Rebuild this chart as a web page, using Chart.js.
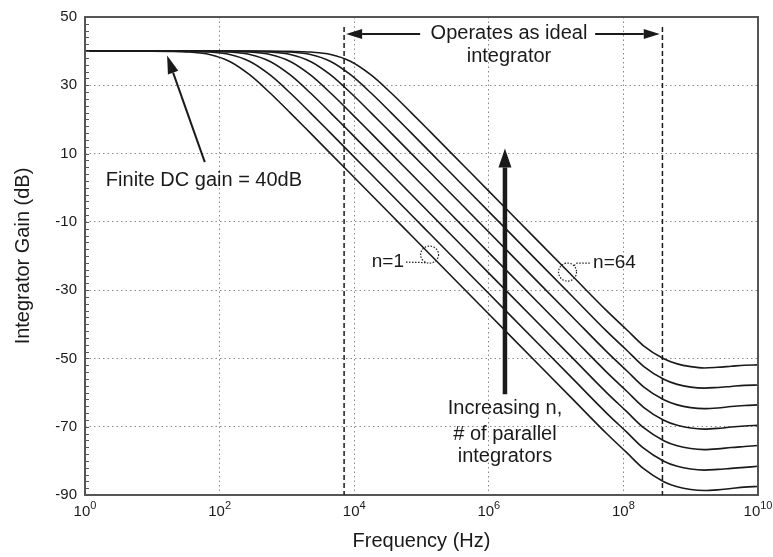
<!DOCTYPE html>
<html>
<head>
<meta charset="utf-8">
<script src="https://cdn.jsdelivr.net/npm/chart.js@4.4.0/dist/chart.umd.min.js"></script>
<style>
  html, body { margin: 0; padding: 0; background: #fff; }
</style>
</head>
<body>
<canvas id="gain-chart" width="773" height="557"></canvas>
<script>
// log10 of the frequency in Hz, shared by every curve
const logFreq = [0, 0.95, 1.25, 1.55, 1.85, 2.15, 2.45, 2.75, 3.05, 3.35, 3.65, 3.95, 4.25, 4.55, 4.85, 5.15, 5.45, 5.75,
  6.25, 6.75, 7.25, 7.75, 8.05, 8.3, 8.6, 8.8, 9.0, 9.2, 9.4, 9.6, 9.8, 10];

// integrator gain in dB, one curve per number of parallel integrators
const gainN1 = [40, 39.98, 39.93, 39.73, 39.03, 36.99, 33.03, 27.73, 21.93, 15.98, 10.0, 4.0, -2.0, -8.0, -14.0, -20.0, -26.0, -32.0,
  -42.0, -52.0, -62.0, -72.0, -77.6, -82.3, -86.1, -87.6, -88.4, -88.7, -88.5, -88.1, -87.7, -87.5];
const gainN2 = [40, 40, 39.98, 39.93, 39.73, 39.03, 36.99, 33.03, 27.73, 21.93, 15.98, 10.0, 4.0, -2.0, -8.0, -14.0, -20.0, -26.0,
  -36.0, -46.0, -56.0, -66.0, -71.6, -76.3, -80.1, -81.6, -82.4, -82.7, -82.5, -82.2, -81.9, -81.6];
const gainN4 = [40, 40, 40, 39.98, 39.93, 39.73, 39.03, 36.99, 33.03, 27.73, 21.93, 15.98, 10.0, 4.0, -2.0, -8.0, -14.0, -20.0,
  -30.0, -40.0, -50.0, -60.0, -65.6, -70.3, -74.1, -75.6, -76.4, -76.7, -76.5, -76.1, -75.8, -75.5];
const gainN8 = [40, 40, 40, 40, 39.98, 39.93, 39.73, 39.03, 36.99, 33.03, 27.73, 21.93, 15.98, 10.0, 4.0, -2.0, -8.0, -14.0,
  -24.0, -34.0, -44.0, -54.0, -59.6, -64.3, -68.1, -69.6, -70.4, -70.7, -70.5, -70.1, -69.8, -69.6];
const gainN16 = [40, 40, 40, 40, 40, 39.98, 39.93, 39.73, 39.03, 36.99, 33.03, 27.73, 21.93, 15.98, 10.0, 4.0, -2.0, -8.0,
  -18.0, -28.0, -38.0, -48.0, -53.6, -58.3, -62.1, -63.6, -64.4, -64.7, -64.5, -64.1, -63.8, -63.6];
const gainN32 = [40, 40, 40, 40, 40, 40, 39.98, 39.93, 39.73, 39.03, 36.99, 33.03, 27.73, 21.93, 15.98, 10.0, 4.0, -2.0,
  -12.0, -22.0, -32.0, -42.0, -47.6, -52.3, -56.1, -57.6, -58.4, -58.7, -58.5, -58.2, -57.9, -57.8];
const gainN64 = [40, 40, 40, 40, 40, 40, 40, 39.98, 39.93, 39.73, 39.03, 36.99, 33.03, 27.73, 21.93, 15.98, 10.0, 4.0,
  -6.0, -16.0, -26.0, -36.0, -41.6, -46.3, -50.1, -51.6, -52.4, -52.8, -52.6, -52.3, -52.0, -51.9];

const seriesNames = ['n=1', 'n=2', 'n=4', 'n=8', 'n=16', 'n=32', 'n=64'];
const seriesGains = [gainN1, gainN2, gainN4, gainN8, gainN16, gainN32, gainN64];

// axis ticks
const gainTicks = [50, 30, 10, -10, -30, -50, -70, -90];
const freqTickExps = [0, 2, 4, 6, 8, 10];

// edges of the "ideal integrator" region, log10(Hz)
const idealRegion = [3.85, 8.58];

const FONT = "'Liberation Sans', Arial, Helvetica, sans-serif";
const INK = '#1a1a1a';

function drawArrow(ctx, x1, y1, x2, y2, width, headLen, headHalf) {
  const ang = Math.atan2(y2 - y1, x2 - x1);
  const bx = x2 - headLen * Math.cos(ang);
  const by = y2 - headLen * Math.sin(ang);
  ctx.lineWidth = width;
  ctx.beginPath();
  ctx.moveTo(x1, y1);
  ctx.lineTo(bx, by);
  ctx.stroke();
  ctx.beginPath();
  ctx.moveTo(x2, y2);
  ctx.lineTo(bx + headHalf * Math.sin(ang), by - headHalf * Math.cos(ang));
  ctx.lineTo(bx - headHalf * Math.sin(ang), by + headHalf * Math.cos(ang));
  ctx.closePath();
  ctx.fill();
}

// frame, minor ticks, 10^n labels and the annotations
const annotations = {
  id: 'annotations',
  afterDraw(chart) {
    const { ctx, chartArea: a, scales: { x, y } } = chart;
    const px = v => x.getPixelForValue(v);
    const py = v => y.getPixelForValue(v);
    ctx.save();

    // minor ticks on the gain axis
    ctx.strokeStyle = '#555';
    ctx.lineWidth = 1;
    ctx.beginPath();
    for (let v = -88; v < 50; v += 2) {
      const yy = Math.round(py(v)) + 0.5;
      ctx.moveTo(a.left, yy);
      ctx.lineTo(a.left + 4, yy);
    }
    ctx.stroke();

    // plot frame
    ctx.strokeStyle = '#555';
    ctx.lineWidth = 2;
    ctx.strokeRect(a.left, a.top, a.right - a.left, a.bottom - a.top);

    // frequency tick labels as 10 with a raised exponent
    ctx.fillStyle = INK;
    ctx.textBaseline = 'alphabetic';
    ctx.textAlign = 'left';
    freqTickExps.forEach(e => {
      ctx.font = '15px ' + FONT;
      const w1 = ctx.measureText('10').width;
      ctx.font = '11px ' + FONT;
      const w2 = ctx.measureText(String(e)).width;
      const x0 = px(e) - (w1 + w2) / 2;
      ctx.font = '15px ' + FONT;
      ctx.fillText('10', x0, a.bottom + 21);
      ctx.font = '11px ' + FONT;
      ctx.fillText(String(e), x0 + w1, a.bottom + 14);
    });

    // dashed limits of the ideal integrator region
    ctx.strokeStyle = INK;
    ctx.lineWidth = 1.5;
    ctx.setLineDash([5, 3]);
    idealRegion.forEach(v => {
      ctx.beginPath();
      ctx.moveTo(px(v), py(47.1));
      ctx.lineTo(px(v), a.bottom);
      ctx.stroke();
    });
    ctx.setLineDash([]);

    // arrows
    ctx.fillStyle = INK;
    drawArrow(ctx, px(4.98), py(45.0), px(3.88), py(45.0), 2, 16, 5);
    drawArrow(ctx, px(7.58), py(45.0), px(8.54), py(45.0), 2, 16, 5);
    drawArrow(ctx, px(1.78), py(7.5), px(1.22), py(38.7), 2, 18, 5.5);
    drawArrow(ctx, px(6.24), py(-60.5), px(6.24), py(11.5), 4.5, 19, 6.5);

    // text
    ctx.font = '20px ' + FONT;
    ctx.textBaseline = 'middle';
    ctx.textAlign = 'center';
    ctx.fillText('Operates as ideal', px(6.30), py(45.1));
    ctx.fillText('integrator', px(6.30), py(38.4));
    ctx.fillText('Increasing n,', px(6.24), py(-64.8));
    ctx.fillText('# of parallel', px(6.24), py(-72.4));
    ctx.fillText('integrators', px(6.24), py(-78.7));
    ctx.textAlign = 'left';
    ctx.fillText('Finite DC gain = 40dB', px(0.31), py(2.0));

    ctx.font = '19px ' + FONT;
    ctx.textAlign = 'right';
    ctx.fillText(seriesNames[0], px(4.74), py(-21.8));
    ctx.textAlign = 'left';
    ctx.fillText(seriesNames[6], px(7.55), py(-22.1));

    // dotted markers for n=1 and n=64
    ctx.strokeStyle = '#222';
    ctx.lineWidth = 1.2;
    ctx.setLineDash([1.5, 1.5]);
    const c1x = px(5.12), c1y = py(-19.6);
    ctx.beginPath();
    ctx.ellipse(c1x, c1y, 9, 8.5, 0, 0, Math.PI * 2);
    ctx.stroke();
    ctx.beginPath();
    ctx.moveTo(px(4.77), py(-21.8));
    ctx.lineTo(c1x - 3, c1y + 8);
    ctx.stroke();
    const c2x = px(7.17), c2y = py(-24.7);
    ctx.beginPath();
    ctx.ellipse(c2x, c2y, 9, 9, 0, 0, Math.PI * 2);
    ctx.stroke();
    ctx.beginPath();
    ctx.moveTo(px(7.50), py(-22.1));
    ctx.lineTo(px(7.31), py(-22.1));
    ctx.lineTo(c2x + 6, c2y - 6);
    ctx.stroke();
    ctx.restore();
  }
};

const datasets = seriesGains.map((gains, i) => ({
  label: seriesNames[i],
  data: logFreq.map((f, j) => ({ x: f, y: gains[j] })),
  borderColor: INK,
  borderWidth: 1.6,
  pointRadius: 0,
  fill: false,
  cubicInterpolationMode: 'monotone'
}));

const gridOpts = { color: '#8a8a8a', lineWidth: 1, drawTicks: false };

new Chart(document.getElementById('gain-chart').getContext('2d'), {
  type: 'line',
  data: { datasets },
  options: {
    responsive: false,
    animation: false,
    layout: { padding: { left: 0, right: 15, top: 11, bottom: 0 } },
    plugins: { legend: { display: false }, tooltip: { enabled: false } },
    scales: {
      x: {
        type: 'linear',
        min: 0,
        max: 10,
        afterFit: s => { s.height = 62; },
        afterBuildTicks: s => { s.ticks = freqTickExps.map(v => ({ value: v })); },
        ticks: { display: false },
        grid: gridOpts,
        border: { display: false, dash: [1.5, 3] },
        title: {
          display: true,
          text: 'Frequency (Hz)',
          color: INK,
          font: { family: FONT, size: 20 },
          padding: { top: 0, bottom: 4 }
        }
      },
      y: {
        min: -90,
        max: 50,
        afterFit: s => { s.width = 85; },
        afterBuildTicks: s => { s.ticks = gainTicks.map(v => ({ value: v })); },
        ticks: { color: INK, font: { family: FONT, size: 15 }, padding: 8 },
        grid: gridOpts,
        border: { display: false, dash: [1.5, 3] },
        title: {
          display: true,
          text: 'Integrator Gain (dB)',
          color: INK,
          font: { family: FONT, size: 20 },
          padding: { top: 11, bottom: 0 }
        }
      }
    }
  },
  plugins: [annotations]
});
</script>
</body>
</html>
